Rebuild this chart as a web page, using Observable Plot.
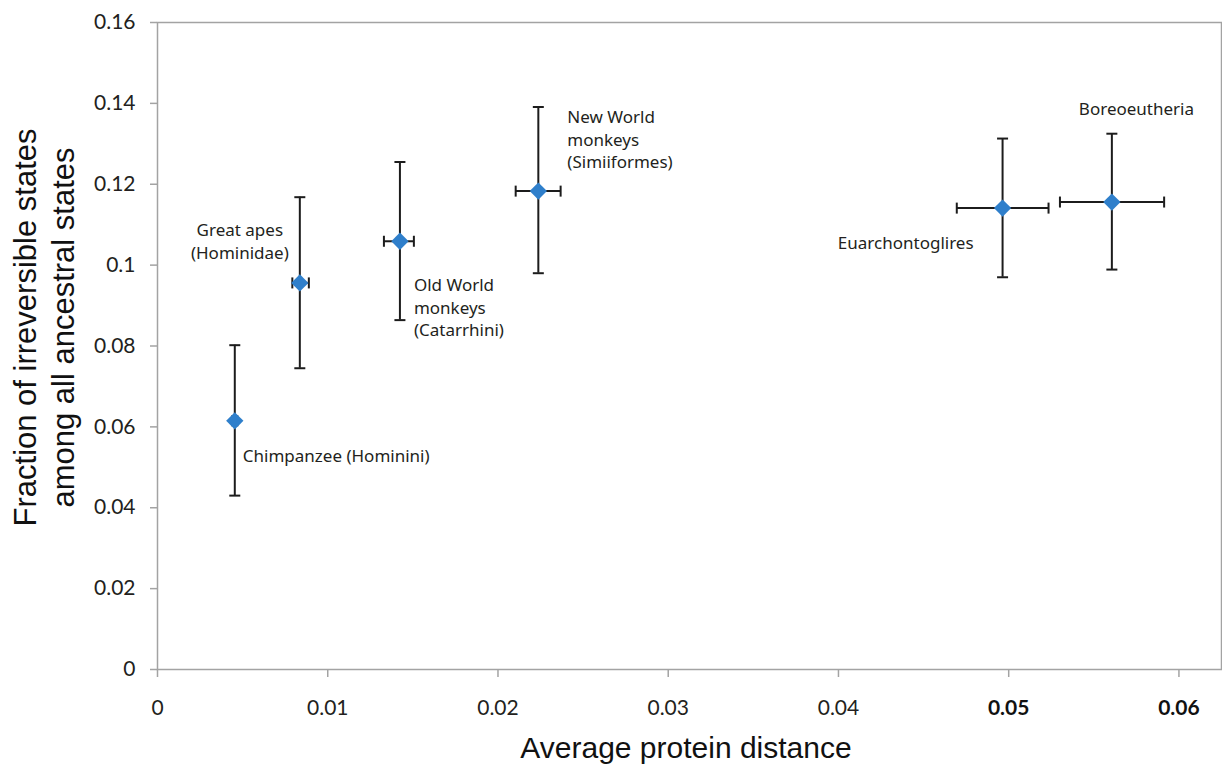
<!DOCTYPE html>
<html><head><meta charset="utf-8">
<script src="https://cdn.jsdelivr.net/npm/d3@7"></script>
<script src="https://cdn.jsdelivr.net/npm/@observablehq/plot@0.6"></script>
<style>
html,body{margin:0;padding:0;background:#fff;}
#chart svg{display:block;}
</style>
</head><body><div id="chart"></div>
<script>
// ---- data ----
const clades = [
  "Chimpanzee (Hominini)",
  "Great apes\n(Hominidae)",
  "Old World\nmonkeys\n(Catarrhini)",
  "New World\nmonkeys\n(Simiiformes)",
  "Euarchontoglires",
  "Boreoeutheria"
];
const distance     = [0.00454, 0.00836, 0.01424, 0.02237, 0.04964, 0.05606];
const distanceLow  = [0.00439, 0.00792, 0.01330, 0.02104, 0.04695, 0.05301];
const distanceHigh = [0.00469, 0.00889, 0.01506, 0.02368, 0.05234, 0.05913];
const fraction     = [0.0615, 0.0956, 0.1059, 0.1183, 0.1141, 0.1156];
const fractionLow  = [0.0430, 0.0745, 0.0864, 0.0980, 0.0970, 0.0989];
const fractionHigh = [0.0802, 0.1168, 0.1255, 0.1391, 0.1313, 0.1325];

const xTicks = [0, 0.01, 0.02, 0.03, 0.04, 0.05, 0.06];
const xTickLabels = ["0", "0.01", "0.02", "0.03", "0.04", "0.05", "0.06"];
const xBoldTicks = [0.05, 0.06];
const yTicks = [0, 0.02, 0.04, 0.06, 0.08, 0.1, 0.12, 0.14, 0.16];
const yTickLabels = ["0", "0.02", "0.04", "0.06", "0.08", "0.1", "0.12", "0.14", "0.16"];

const xTitle = "Average protein distance";
const yTitle = "Fraction of irreversible states\namong all ancestral states";

// ---- table ----
const rows = clades.map((label, i) => ({
  label,
  x: distance[i], xLo: distanceLow[i], xHi: distanceHigh[i],
  y: fraction[i], yLo: fractionLow[i], yHi: fractionHigh[i]
}));
const xLabelMap = new Map(xTicks.map((t, i) => [t, xTickLabels[i]]));
const yLabelMap = new Map(yTicks.map((t, i) => [t, yTickLabels[i]]));

// ---- styles ----
const axisGray = "#a3a3a3";
const barColor = "#1c1c1c";
const markerColor = "#2f7fcb";
const textColor = "#231f20";
const labelFont = "'Noto Sans', 'Open Sans', sans-serif";
const tickFont = "Lato, 'Noto Sans', sans-serif";
const titleFont = "'Liberation Sans', Arial, sans-serif";

const capH = {draw(ctx) { ctx.moveTo(-5.5, 0); ctx.lineTo(5.5, 0); }};
const capV = {draw(ctx) { ctx.moveTo(0, -5.5); ctx.lineTo(0, 5.5); }};

// label placement relative to each point (pixels)
const labelLayout = [
  {dx: 8,   dy: 41,  textAnchor: "start"},
  {dx: -60, dy: -24, textAnchor: "middle"},
  {dx: 14,  dy: 95,  textAnchor: "start"},
  {dx: 29,  dy: -23, textAnchor: "start"},
  {dx: -29, dy: 41,  textAnchor: "end"},
  {dx: -33, dy: -87, textAnchor: "start"}
];

const labelMarks = rows.map((r, i) => Plot.text([r], {
  x: "x", y: "y", text: "label",
  dx: labelLayout[i].dx, dy: labelLayout[i].dy,
  textAnchor: labelLayout[i].textAnchor,
  lineAnchor: "bottom", lineHeight: 1.32,
  fontSize: 17, fontFamily: labelFont, fill: textColor
}));

const chart = Plot.plot({
  width: 1222,
  height: 767,
  marginLeft: 157,
  marginRight: 1,
  marginTop: 22,
  marginBottom: 98,
  style: {background: "#fff", overflow: "visible"},
  x: {domain: [0, 0.0625]},
  y: {domain: [0, 0.16]},
  marks: [
    Plot.axisY(yTicks, {
      tickSize: 7, tickPadding: 15, stroke: axisGray, strokeWidth: 1.5,
      fill: textColor, fontSize: 21, fontFamily: tickFont,
      tickFormat: d => yLabelMap.get(d), label: null
    }),
    Plot.axisX(xTicks.filter(t => !xBoldTicks.includes(t)), {
      tickSize: 8, tickPadding: 23, stroke: axisGray, strokeWidth: 1.5,
      fill: textColor, fontSize: 21, fontFamily: tickFont,
      tickFormat: d => xLabelMap.get(d), label: null
    }),
    Plot.axisX(xBoldTicks, {
      tickSize: 8, tickPadding: 23, stroke: axisGray, strokeWidth: 1.5,
      fill: "#111", fontSize: 21, fontFamily: tickFont, fontWeight: "bold",
      tickFormat: d => xLabelMap.get(d), label: null
    }),
    Plot.frame({stroke: axisGray, strokeWidth: 1.5}),
    Plot.ruleX(rows, {x: "x", y1: "yLo", y2: "yHi", stroke: barColor, strokeWidth: 2}),
    Plot.ruleY(rows, {y: "y", x1: "xLo", x2: "xHi", stroke: barColor, strokeWidth: 2}),
    Plot.dot(rows, {x: "x", y: "yLo", symbol: capH, stroke: barColor, strokeWidth: 2, fill: "none"}),
    Plot.dot(rows, {x: "x", y: "yHi", symbol: capH, stroke: barColor, strokeWidth: 2, fill: "none"}),
    Plot.dot(rows, {x: "xLo", y: "y", symbol: capV, stroke: barColor, strokeWidth: 2, fill: "none"}),
    Plot.dot(rows, {x: "xHi", y: "y", symbol: capV, stroke: barColor, strokeWidth: 2, fill: "none"}),
    Plot.dot(rows, {x: "x", y: "y", symbol: "diamond2", r: 7.8, fill: markerColor, stroke: "none"}),
    ...labelMarks,
    Plot.text([xTitle], {
      frameAnchor: "bottom", lineAnchor: "bottom", dx: -3.5, dy: 88,
      fontSize: 30, fontFamily: titleFont, fill: "#111"
    }),
    Plot.text([yTitle], {
      frameAnchor: "left", rotate: -90, lineAnchor: "bottom", lineHeight: 1.2,
      textAnchor: "middle", dx: -84, dy: -18.5,
      fontSize: 31, fontFamily: titleFont, fill: "#111"
    })
  ]
});
document.getElementById("chart").appendChild(chart);
</script>
</body></html>
